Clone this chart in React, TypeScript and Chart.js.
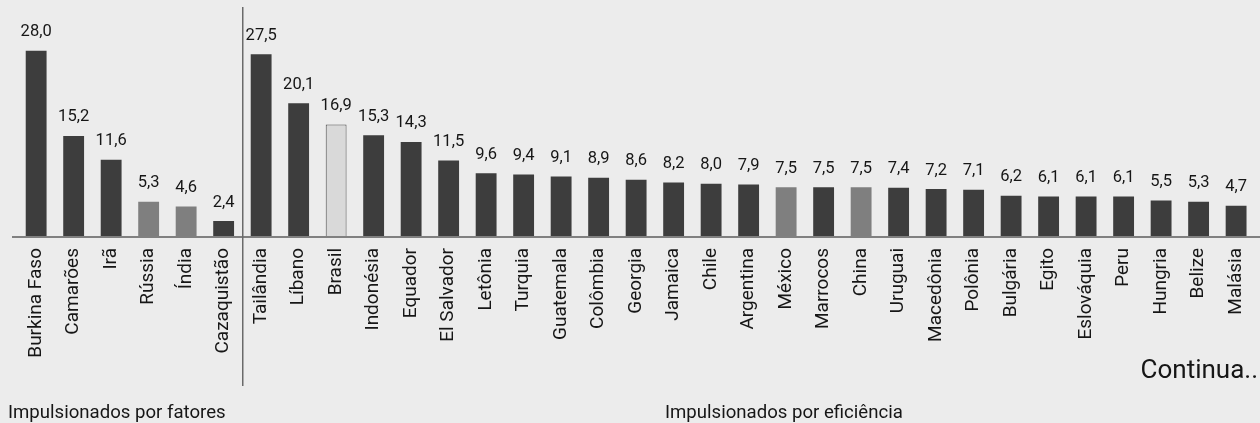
import React, { useEffect, useRef } from "react";
import { Chart, registerables } from "chart.js";

Chart.register(...registerables);

const factorCountries = ["Burkina Faso", "Camarões", "Irã", "Rússia", "Índia", "Cazaquistão"];
const factorValues = [28.0, 15.2, 11.6, 5.3, 4.6, 2.4];

const efficiencyCountries = [
  "Tailândia", "Líbano", "Brasil", "Indonésia", "Equador", "El Salvador", "Letônia", "Turquia",
  "Guatemala", "Colômbia", "Georgia", "Jamaica", "Chile", "Argentina", "México", "Marrocos",
  "China", "Uruguai", "Macedônia", "Polônia", "Bulgária", "Egito", "Eslováquia", "Peru",
  "Hungria", "Belize", "Malásia",
];
const efficiencyValues = [
  27.5, 20.1, 16.9, 15.3, 14.3, 11.5, 9.6, 9.4, 9.1, 8.9, 8.6, 8.2, 8.0, 7.9, 7.5, 7.5, 7.5, 7.4,
  7.2, 7.1, 6.2, 6.1, 6.1, 6.1, 5.5, 5.3, 4.7,
];

const greyCountries = ["Rússia", "Índia", "México", "China"];
const focusCountry = "Brasil";

const groupLabels = ["Impulsionados por fatores", "Impulsionados por eficiência"];
const continueLabel = "Continua..";

const categories = [...factorCountries, ...efficiencyCountries];
const values = [...factorValues, ...efficiencyValues];

const DARK = "#3d3d3d";
const GREY = "#7f7f7f";
const LIGHT = "#d9d9d9";
const TEXT = "#161616";

const fmt = (v: number) => v.toFixed(1).replace(".", ",");

export default function App() {
  const canvasRef = useRef<HTMLCanvasElement | null>(null);

  useEffect(() => {
    const canvas = canvasRef.current;
    if (!canvas) return;

    const overlay = {
      id: "overlay",
      afterDatasetsDraw(chart: any) {
        const { ctx } = chart;
        const meta = chart.getDatasetMeta(0);
        const xs = chart.scales.x;
        const ys = chart.scales.y;
        const y0 = ys.getPixelForValue(0);
        ctx.save();
        // baseline
        ctx.strokeStyle = "#808080";
        ctx.lineWidth = 2;
        ctx.beginPath();
        ctx.moveTo(12, y0);
        ctx.lineTo(chart.width, y0);
        ctx.stroke();
        // separator
        const mid = (xs.getPixelForValue(factorCountries.length - 1) + xs.getPixelForValue(factorCountries.length)) / 2;
        const sepX = Math.round(mid) + 0.75;
        ctx.strokeStyle = "#6a6a6a";
        ctx.lineWidth = 1.5;
        ctx.beginPath();
        ctx.moveTo(sepX, 7);
        ctx.lineTo(sepX, 386);
        ctx.stroke();
        // value labels
        ctx.fillStyle = TEXT;
        ctx.font = "16.5px Roboto";
        ctx.textAlign = "center";
        ctx.textBaseline = "alphabetic";
        meta.data.forEach((bar: any, i: number) => {
          ctx.fillText(fmt(values[i]), bar.x, bar.y - 14.5);
        });
        // group labels
        ctx.font = "18.6px Roboto";
        ctx.textAlign = "left";
        ctx.fillText(groupLabels[0], 8, 418);
        ctx.fillText(groupLabels[1], 665, 418);
        ctx.font = "26px Roboto";
        ctx.textAlign = "right";
        ctx.fillText(continueLabel, 1258, 378);
        ctx.restore();
      },
    };

    const chart = new Chart(canvas, {
      type: "bar",
      data: {
        labels: categories,
        datasets: [
          {
            data: values,
            backgroundColor: categories.map((c) =>
              c === focusCountry ? LIGHT : greyCountries.includes(c) ? GREY : DARK
            ),
            borderColor: "#4a4a4a",
            borderWidth: categories.map((c) => (c === focusCountry ? 1 : 0)),
            barPercentage: 0.556,
            categoryPercentage: 1,
          },
        ],
      },
      options: {
        responsive: false,
        animation: false,
        devicePixelRatio: 1,
        layout: { padding: { left: 17.4, right: 6.6, top: 37.5, bottom: 0 } },
        plugins: {
          legend: { display: false },
          tooltip: { enabled: false },
        },
        scales: {
          x: {
            offset: true,
            grid: { display: false, drawTicks: false },
            border: { display: false },
            ticks: {
              autoSkip: false,
              maxRotation: 90,
              minRotation: 90,
              padding: 11,
              color: TEXT,
              font: { family: "Roboto", size: 19 },
            },
            afterFit: (scale: any) => {
              scale.height = 186;
            },
          },
          y: {
            display: false,
            min: 0,
            max: 30,
          },
        },
      },
      plugins: [overlay],
    });

    return () => chart.destroy();
  }, []);

  return (
    <div
      style={{
        position: "fixed",
        left: 0,
        top: 0,
        width: 1260,
        height: 423,
        overflow: "hidden",
        background: "#ececec",
      }}
    >
      <canvas ref={canvasRef} width={1270} height={423} style={{ display: "block" }} />
    </div>
  );
}
